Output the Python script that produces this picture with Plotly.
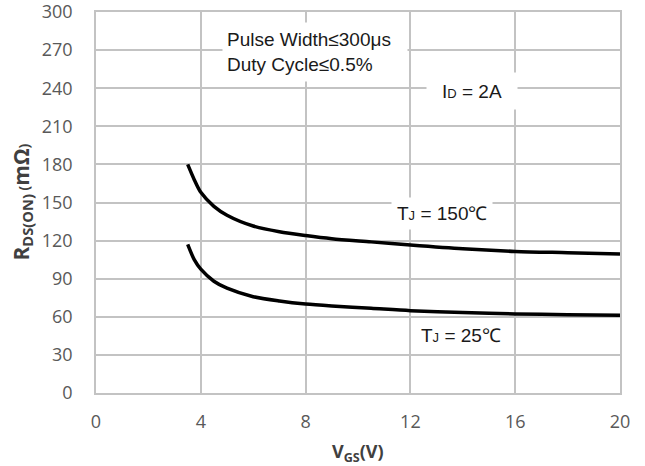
import plotly.graph_objects as go

# Data
vgs_150 = [3.5, 3.75, 4.0, 4.5, 5.0, 6.0, 7.0, 8.0, 9.0, 10.5, 12.0, 14.0, 16.0, 18.0, 20.0]
rds_150 = [180, 168, 158, 147, 140, 131.5, 127, 124, 121.5, 119, 116.5, 113.5, 111.5, 110.5, 109.5]
vgs_25 = [3.5, 3.75, 4.0, 4.5, 5.0, 6.0, 7.0, 8.0, 9.0, 10.5, 12.0, 14.0, 16.0, 18.0, 20.0]
rds_25 = [117, 105, 97.5, 88, 82.5, 75.8, 72.4, 70, 68.5, 66.7, 64.8, 63.3, 62.3, 61.6, 61.2]

x_ticks = [0, 4, 8, 12, 16, 20]
y_ticks = [0, 30, 60, 90, 120, 150, 180, 210, 240, 270, 300]

grid = "#c3c3c3"
tickfont = dict(family="Open Sans", size=18, color="#595959")
afont = dict(family="Liberation Sans, Arial", size=19, color="#1a1a1a")

fig = go.Figure()
fig.add_trace(go.Scatter(x=vgs_150, y=rds_150, mode="lines",
                         line=dict(color="black", width=3.5, shape="spline", smoothing=0.8),
                         showlegend=False, hoverinfo="skip"))
fig.add_trace(go.Scatter(x=vgs_25, y=rds_25, mode="lines",
                         line=dict(color="black", width=3.5, shape="spline", smoothing=0.8),
                         showlegend=False, hoverinfo="skip"))

fig.update_layout(
    width=645, height=466,
    margin=dict(l=96, r=25, t=12, b=73, autoexpand=False),
    paper_bgcolor="white", plot_bgcolor="white",
    xaxis=dict(range=[0, 20], tickvals=x_ticks, showgrid=True, gridcolor=grid, gridwidth=1.5,
               showline=True, mirror=True, linecolor=grid, linewidth=1.5, zeroline=False,
               tickfont=tickfont, ticks="", ticklabelstandoff=12, fixedrange=True,
               automargin=False, ticklabeloverflow="allow"),
    yaxis=dict(range=[0, 300], tickvals=y_ticks, showgrid=True, gridcolor=grid, gridwidth=1.5,
               showline=True, mirror=True, linecolor=grid, linewidth=1.5, zeroline=False,
               tickfont=tickfont, ticks="", ticklabelstandoff=18, fixedrange=True,
               automargin=False, ticklabeloverflow="allow"),
)

ann = []
ann.append(dict(x=8.36, y=268.9, xref="x", yref="y",
                text="Pulse Width≤300μs<br>Duty Cycle≤0.5%", showarrow=False,
                align="left", width=176, height=50, borderpad=4, bgcolor="white",
                font=afont, xanchor="center", yanchor="middle"))
ann.append(dict(x=14.35, y=238, xref="x", yref="y",
                text="I<span style='font-size:13px'>D</span> = 2A", showarrow=False,
                width=84, height=30, borderpad=3, bgcolor="white",
                font=afont, xanchor="center", yanchor="middle"))
ann.append(dict(x=13.2, y=141, xref="x", yref="y",
                text="T<span style='font-size:13px'>J</span> = 150℃", showarrow=False,
                borderpad=5, bgcolor="white",
                font=afont, xanchor="center", yanchor="middle"))
ann.append(dict(x=13.95, y=45.5, xref="x", yref="y",
                text="T<span style='font-size:13px'>J</span> = 25℃", showarrow=False,
                borderpad=5, bgcolor="white",
                font=afont, xanchor="center", yanchor="middle"))
# axis titles
ann.append(dict(x=0, y=0.5, xref="paper", yref="paper", xshift=-75,
                text="<b>R<sub>DS(ON)</sub><span style='font-size:14px'> (</span>mΩ<span style='font-size:14px'>)</span></b>",
                textangle=-90, showarrow=False, xanchor="center", yanchor="middle",
                font=dict(family="Open Sans", size=21, color="#404040")))
ann.append(dict(x=0.5, y=0, xref="paper", yref="paper", yshift=-59,
                text="<b>V<sub>GS</sub>(V)</b>", showarrow=False,
                xanchor="center", yanchor="middle",
                font=dict(family="Open Sans", size=18, color="#404040")))
fig.update_layout(annotations=ann)

fig.write_html("out.html", config={"displayModeBar": False},
               post_script="document.body.style.margin='0';")
